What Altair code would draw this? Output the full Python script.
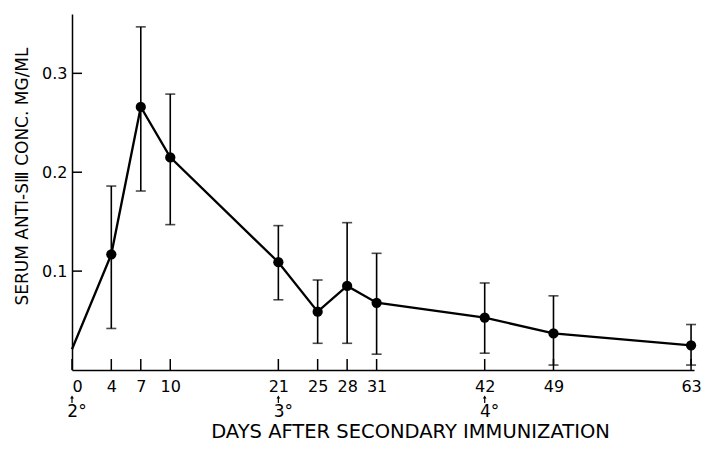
import altair as alt
import pandas as pd

# ---- data ----
days = [0, 4, 7, 10, 21, 25, 28, 31, 42, 49, 63]
mean_conc = [0.021, 0.117, 0.266, 0.215, 0.109, 0.059, 0.085, 0.068, 0.053, 0.037, 0.025]
upper = [None, 0.186, 0.347, 0.279, 0.146, 0.091, 0.149, 0.118, 0.088, 0.075, 0.046]
lower = [None, 0.042, 0.181, 0.147, 0.071, 0.027, 0.027, 0.016, 0.017, 0.005, 0.005]
has_dot = [False, True, True, True, True, True, True, True, True, True, True]

y_ticks = [0.1, 0.2, 0.3]
booster_days = [0, 21, 42]
booster_labels = ["2°", "3°", "4°"]

x_title = "DAYS AFTER SECONDARY IMMUNIZATION"
y_title = "SERUM ANTI-SⅢ CONC. MG/ML"

W, H = 622, 356
FONT = "DejaVu Sans"

df = pd.DataFrame({"day": days, "conc": mean_conc, "hi": upper, "lo": lower, "dot": has_dot})
df_err = df[df["dot"]]
df_xt = pd.DataFrame({"day": days})
df_yt = pd.DataFrame({"v": y_ticks})
df_b = pd.DataFrame({"day": booster_days, "lab": booster_labels})

xs = alt.Scale(domain=[0, 63.3], nice=False, zero=False)
ys = alt.Scale(domain=[0, 0.36], nice=False)

xax = alt.Axis(values=days, ticks=False, grid=False, labelFontSize=16, labelPadding=8,
               labelFont=FONT, labelColor="black", domainColor="black", domainWidth=1.5,
               title=x_title, titleFont=FONT, titleFontSize=19.5, titleFontWeight="normal",
               titleColor="black", titleX=338, titleY=61, titleBaseline="middle")
yax = alt.Axis(values=y_ticks, format=".1f", ticks=False, grid=False, labelFontSize=16,
               labelPadding=5, labelFont=FONT, labelColor="black", domainColor="black",
               domainWidth=1.5, title=y_title, titleFont=FONT, titleFontSize=17,
               titleFontWeight="normal", titleColor="black", titleAngle=270,
               titleX=-50, titleY=162, titleAlign="center", titleBaseline="middle")

base = alt.Chart(df)

line = base.mark_line(color="black", strokeWidth=2.3).encode(
    x=alt.X("day:Q", scale=xs, axis=xax),
    y=alt.Y("conc:Q", scale=ys, axis=yax),
)

dots = alt.Chart(df_err).mark_circle(color="black", opacity=1, size=105).encode(
    x=alt.X("day:Q", scale=xs), y=alt.Y("conc:Q", scale=ys))

err = alt.Chart(df_err).mark_rule(color="black", strokeWidth=1.6).encode(
    x=alt.X("day:Q", scale=xs), y=alt.Y("lo:Q", scale=ys), y2="hi:Q")
cap_hi = alt.Chart(df_err).mark_tick(color="black", orient="horizontal", size=10,
                                     thickness=1.6).encode(
    x=alt.X("day:Q", scale=xs), y=alt.Y("hi:Q", scale=ys))
cap_lo = alt.Chart(df_err).mark_tick(color="black", orient="horizontal", size=10,
                                     thickness=1.6).encode(
    x=alt.X("day:Q", scale=xs), y=alt.Y("lo:Q", scale=ys))

xticks = alt.Chart(df_xt).mark_rule(color="black", strokeWidth=1.5).encode(
    x=alt.X("day:Q", scale=xs), y=alt.value(H), y2=alt.value(H - 11))
yticks = alt.Chart(df_yt).mark_rule(color="black", strokeWidth=1.5).encode(
    y=alt.Y("v:Q", scale=ys), x=alt.value(0), x2=alt.value(10))

arrows = alt.Chart(df_b).mark_rule(color="black", strokeWidth=1.2).encode(
    x=alt.X("day:Q", scale=xs), y=alt.value(H + 27), y2=alt.value(H + 33))
heads = alt.Chart(df_b).mark_point(shape="triangle-up", filled=True, color="black",
                                   opacity=1, size=14).encode(
    x=alt.X("day:Q", scale=xs), y=alt.value(H + 27))
blabels = alt.Chart(df_b).mark_text(font=FONT, fontSize=17, color="black", align="center",
                                    baseline="middle", dx=5).encode(
    x=alt.X("day:Q", scale=xs), y=alt.value(H + 42), text="lab:N")

chart = alt.layer(line, err, cap_hi, cap_lo, dots, xticks, yticks, arrows, heads, blabels).properties(
    width=W, height=H,
    autosize=alt.AutoSizeParams(type="none"),
    padding={"left": 64, "top": 6, "right": 8, "bottom": 72},
    background="white",
).configure_view(stroke=None)

chart.save("out.html", embed_options={"renderer": "svg", "actions": False})
